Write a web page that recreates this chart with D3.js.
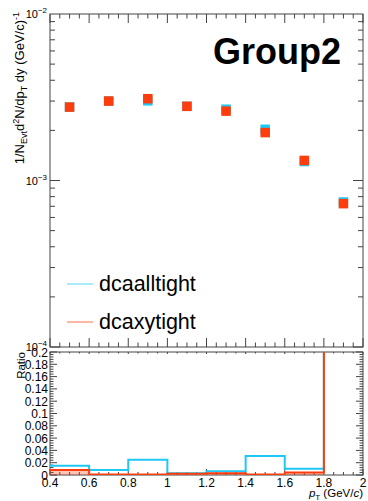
<!DOCTYPE html>
<html><head><meta charset="utf-8">
<script src="https://cdn.jsdelivr.net/npm/d3@7"></script>
<style>body{margin:0;background:#fff}svg{display:block;font-family:"Liberation Sans",Arial,sans-serif}</style>
</head><body><svg id="c" width="368" height="501"></svg>
<script>
const ptBins = [0.4,0.6,0.8,1.0,1.2,1.4,1.6,1.8,2.0];
const ptCenters = [0.5,0.7,0.9,1.1,1.3,1.5,1.7,1.9];
const yieldAllTight = [2.76e-3,3.0e-3,3.01e-3,2.79e-3,2.68e-3,2.03e-3,1.30e-3,7.43e-4];
const yieldXYTight  = [2.76e-3,3.0e-3,3.10e-3,2.79e-3,2.61e-3,1.94e-3,1.32e-3,7.26e-4];
const ratioAllTight = [0.015,0.008,0.025,0.003,0.006,0.031,0.010,0.25];
const ratioXYTight  = [0.008,0.001,0.001,0.002,0.003,0.001,0.004,0.25];
const seriesNames = ["dcaalltight","dcaxytight"];
const logTicks = [1e-4,1e-3,1e-2];
const ratioTicks = [0,0.02,0.04,0.06,0.08,0.1,0.12,0.14,0.16,0.18,0.2];
const xTicks = [0.4,0.6,0.8,1,1.2,1.4,1.6,1.8,2];

const svg = d3.select("#c");
const L=50, R=363, T1=14, B1=347, T2=352, B2=475;
const cCyan="#1ec8f5", cRed="#ff3d0c";
const x = d3.scaleLinear().domain([0.4,2]).range([L,R]);
const y1 = d3.scaleLog().domain([1e-4,1e-2]).range([B1,T1]);
const y2 = d3.scaleLinear().domain([0,0.2]).range([B2,T2]);
const axCol="#444";

svg.append("rect").attr("x",L).attr("y",T1).attr("width",R-L).attr("height",B1-T1).attr("fill","none").attr("stroke",axCol).attr("stroke-width",1);
svg.append("rect").attr("x",L).attr("y",T2).attr("width",R-L).attr("height",B2-T2).attr("fill","none").attr("stroke",axCol).attr("stroke-width",1);

function tick(x1,y1_,x2,y2_){svg.append("line").attr("x1",x1).attr("y1",y1_).attr("x2",x2).attr("y2",y2_).attr("stroke",axCol).attr("stroke-width",1);}

const xMinor = d3.range(0,33).map(i=>0.4+i*0.05);
xMinor.forEach(v=>{
  const isMaj = Math.abs(Math.round(v/0.2)*0.2 - v) < 1e-6;
  const px = x(v);
  const l = isMaj?9:4.5;
  tick(px,B1,px,B1-l); tick(px,T1,px,T1+l);
  const l2 = isMaj?6:3;
  tick(px,B2,px,B2-l2); tick(px,T2,px,T2+(isMaj?2:1.5));
});
[1e-4,1e-3].forEach(d=>{
  for(let k=1;k<10;k++){
    const v=d*k; const py=y1(v); const l = k===1?10:5;
    tick(L,py,L+l,py); tick(R,py,R-l,py);
  }
});
d3.range(0,51).forEach(i=>{
  const v=i*0.004; const py=y2(v); const maj = i%5===0; const l=maj?7:3.5;
  tick(L,py,L+l,py); tick(R,py,R-l,py);
});

logTicks.forEach(v=>{
  const e=Math.round(Math.log10(v));
  const t=svg.append("text").attr("x",L-3).attr("y",y1(v)+4).attr("text-anchor","end").attr("font-size",11).attr("fill","#000");
  t.append("tspan").text("10");
  t.append("tspan").attr("dy",-5).attr("font-size",8).text("\u2212"+Math.abs(e));
});
ratioTicks.forEach(v=>{
  svg.append("text").attr("x",L-2).attr("y",y2(v)+4.5).attr("text-anchor","end").attr("font-size",12).attr("fill","#000").text(d3.format("~g")(+v.toFixed(2)));
});
xTicks.forEach(v=>{
  svg.append("text").attr("x",x(v)).attr("y",486.5).attr("text-anchor","middle").attr("font-size",12).attr("fill","#000").text(d3.format("~g")(v));
});
const xt=svg.append("text").attr("x",R).attr("y",497).attr("text-anchor","end").attr("font-size",11.5).attr("fill","#000");
xt.append("tspan").attr("font-style","italic").text("p");
xt.append("tspan").attr("dy",2.5).attr("font-size",8).text("T");
xt.append("tspan").attr("dy",-2.5).text(" (GeV/");
xt.append("tspan").attr("font-style","italic").text("c");
xt.append("tspan").text(")");

const yt=svg.append("text").attr("transform",`translate(24,${T1-2}) rotate(-90)`).attr("text-anchor","end").attr("font-size",13).attr("fill","#000");
yt.append("tspan").text("1/N");
yt.append("tspan").attr("dy",3).attr("font-size",9).text("Evt");
yt.append("tspan").attr("dy",-3).text("d");
yt.append("tspan").attr("dy",-5).attr("font-size",9).text("2");
yt.append("tspan").attr("dy",5).text("N/dp");
yt.append("tspan").attr("dy",3).attr("font-size",9).text("T");
yt.append("tspan").attr("dy",-3).text(" dy (GeV/c)");
yt.append("tspan").attr("dy",-5).attr("font-size",9).text("-1");

svg.append("text").attr("transform",`translate(25,${T2}) rotate(-90)`).attr("text-anchor","end").attr("font-size",11.5).attr("fill","#000").text("Ratio");

const ms=9.5;
[[yieldAllTight,cCyan],[yieldXYTight,cRed]].forEach(([arr,col])=>{
  svg.append("g").selectAll("rect").data(arr).join("rect")
    .attr("x",(d,i)=>x(ptCenters[i])-ms/2).attr("y",d=>y1(d)-ms/2)
    .attr("width",ms).attr("height",ms).attr("fill",col);
});

svg.append("text").attr("x",341).attr("y",64).attr("text-anchor","end").attr("font-size",36).attr("font-weight","bold").attr("fill","#000").text("Group2");

const legY=[284,322];
[[cCyan,seriesNames[0]],[cRed,seriesNames[1]]].forEach(([col,name],i)=>{
  svg.append("line").attr("x1",67).attr("x2",93).attr("y1",legY[i]).attr("y2",legY[i]).attr("stroke",col).attr("stroke-opacity",0.5).attr("stroke-width",1.5);
  svg.append("text").attr("x",99).attr("y",legY[i]+7).attr("font-size",21.5).attr("fill","#000").text(name);
});

svg.append("clipPath").attr("id","rc").append("rect").attr("x",L).attr("y",T2).attr("width",R-L).attr("height",B2-T2);
const g=svg.append("g").attr("clip-path","url(#rc)");
function stepPts(vals,bins){
  const pts=[[bins[0],0]];
  vals.forEach((v,i)=>{pts.push([bins[i],v]);pts.push([bins[i+1],v]);});
  pts.push([bins[vals.length],0]);
  return pts;
}
const line=d3.line().x(d=>x(d[0])).y(d=>y2(d[1]));
g.append("path").attr("d",line(stepPts(ratioAllTight,ptBins).slice(1,-1))).attr("fill","none").attr("stroke",cCyan).attr("stroke-width",2);
g.append("path").attr("d",line(stepPts(ratioXYTight.slice(0,7),ptBins))).attr("fill",cRed).attr("fill-opacity",0.3).attr("stroke","none");
g.append("path").attr("d",line(stepPts(ratioXYTight,ptBins).slice(1,-1))).attr("fill","none").attr("stroke",cRed).attr("stroke-width",2);
</script></body></html>
